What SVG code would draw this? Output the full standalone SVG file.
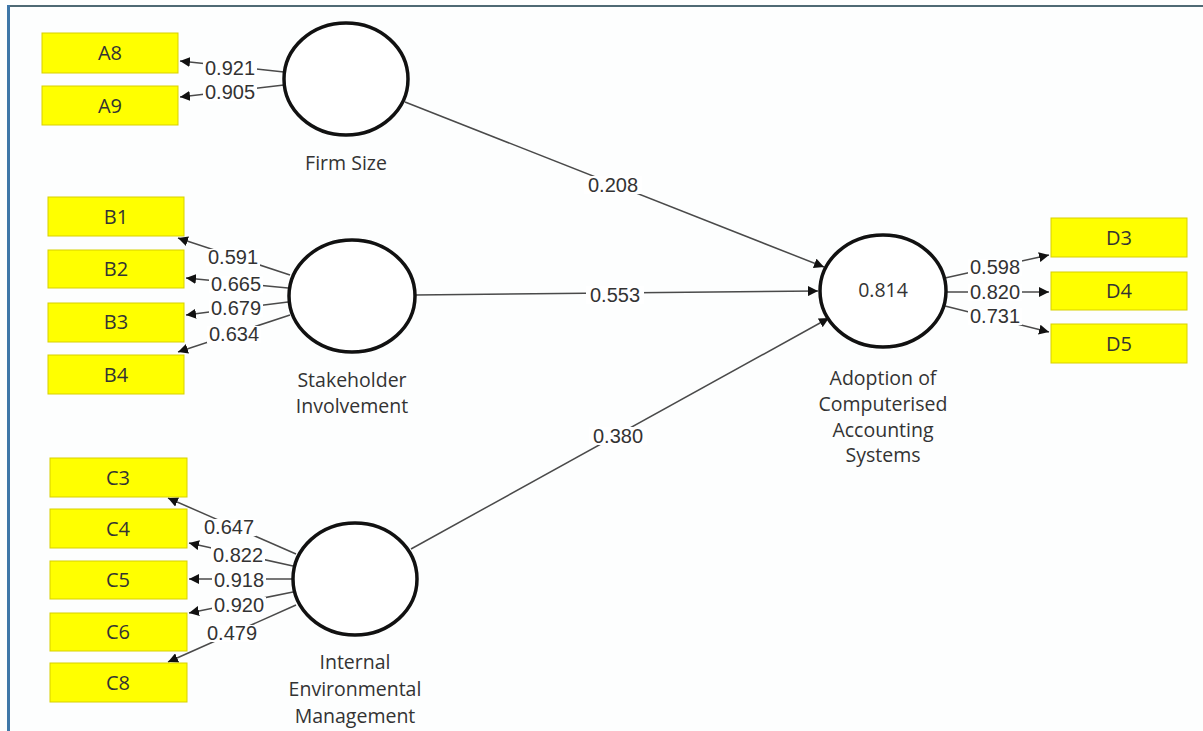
<svg xmlns="http://www.w3.org/2000/svg" width="1203" height="731" viewBox="0 0 1203 731">
<defs>
<marker id="arr" viewBox="0 0 10 10" refX="10" refY="5" markerWidth="10" markerHeight="10" markerUnits="userSpaceOnUse" orient="auto">
<path d="M0,0 L10,5 L0,10 z" fill="#111"/>
</marker>
<style>
.box{fill:#ffff00;stroke:#d8d000;stroke-width:1}
.bt{font-family:"Open Sans","Liberation Sans",sans-serif;font-size:20px;fill:#333;text-anchor:middle}
.lv{fill:#fff;stroke:#111;stroke-width:3.5}
.lt{font-family:"Open Sans","Liberation Sans",sans-serif;font-size:19.5px;fill:#333;text-anchor:middle}
.ln{stroke:#4a4a4a;stroke-width:1.5;fill:none;marker-end:url(#arr)}
.lbg{fill:#fff}
.num{font-family:"Liberation Sans",Arial,sans-serif;font-size:20px;fill:#333;text-anchor:middle}
</style>
</defs>
<rect x="0" y="0" width="1203" height="731" fill="#fdfefe"/>
<line x1="8" y1="6" x2="1203" y2="6" stroke="#4f6a74" stroke-width="2"/>
<line x1="8.5" y1="5" x2="8.5" y2="731" stroke="#3f77a8" stroke-width="3"/>

<g id="connectors">
<line class="ln" x1="284" y1="72" x2="180" y2="61"/>
<line class="ln" x1="284" y1="85" x2="180" y2="97"/>
<line class="ln" x1="290" y1="275" x2="178" y2="238"/>
<line class="ln" x1="288" y1="288" x2="186" y2="278"/>
<line class="ln" x1="288" y1="302" x2="186" y2="315"/>
<line class="ln" x1="290" y1="315" x2="178" y2="352"/>
<line class="ln" x1="296" y1="554" x2="168" y2="498"/>
<line class="ln" x1="293" y1="566" x2="189" y2="543"/>
<line class="ln" x1="293" y1="579" x2="189" y2="579"/>
<line class="ln" x1="293" y1="592" x2="189" y2="613"/>
<line class="ln" x1="296" y1="605" x2="168" y2="662"/>
<line class="ln" x1="945" y1="278" x2="1049" y2="255"/>
<line class="ln" x1="946" y1="292" x2="1049" y2="292"/>
<line class="ln" x1="945" y1="306" x2="1049" y2="332"/>
<line class="ln" x1="405" y1="102" x2="824" y2="267"/>
<line class="ln" x1="415" y1="295" x2="818" y2="291"/>
<line class="ln" x1="411" y1="549" x2="829" y2="318"/>
<g>
<rect class="lbg" x="203" y="60" width="54" height="17"/><text class="num" x="230" y="75">0.921</text>
<rect class="lbg" x="203" y="84" width="54" height="17"/><text class="num" x="230" y="99">0.905</text>
<rect class="lbg" x="206" y="249" width="54" height="17"/><text class="num" x="233" y="264">0.591</text>
<rect class="lbg" x="209" y="276" width="54" height="17"/><text class="num" x="236" y="291">0.665</text>
<rect class="lbg" x="209" y="300" width="54" height="17"/><text class="num" x="236" y="315">0.679</text>
<rect class="lbg" x="207" y="326" width="54" height="17"/><text class="num" x="234" y="341">0.634</text>
<rect class="lbg" x="202" y="519" width="54" height="17"/><text class="num" x="229" y="534">0.647</text>
<rect class="lbg" x="211" y="547" width="54" height="17"/><text class="num" x="238" y="562">0.822</text>
<rect class="lbg" x="212" y="572" width="54" height="17"/><text class="num" x="239" y="587">0.918</text>
<rect class="lbg" x="212" y="597" width="54" height="17"/><text class="num" x="239" y="612">0.920</text>
<rect class="lbg" x="205" y="625" width="54" height="17"/><text class="num" x="232" y="640">0.479</text>
<rect class="lbg" x="968" y="259" width="54" height="17"/><text class="num" x="995" y="274">0.598</text>
<rect class="lbg" x="968" y="284" width="54" height="17"/><text class="num" x="995" y="299">0.820</text>
<rect class="lbg" x="968" y="308" width="54" height="17"/><text class="num" x="995" y="323">0.731</text>
<rect class="lbg" x="584" y="176" width="58" height="18"/><text class="num" x="613" y="192">0.208</text>
<rect class="lbg" x="586" y="286" width="58" height="18"/><text class="num" x="615" y="302">0.553</text>
<rect class="lbg" x="589" y="427" width="58" height="18"/><text class="num" x="618" y="443">0.380</text>
</g>
</g>

<g id="A8"><rect class="box" x="42" y="33" width="136" height="40"/><text class="bt" x="110" y="60">A8</text></g>
<g id="A9"><rect class="box" x="42" y="86" width="136" height="39"/><text class="bt" x="110" y="113">A9</text></g>
<g id="B1"><rect class="box" x="48" y="197" width="136" height="39"/><text class="bt" x="116" y="224">B1</text></g>
<g id="B2"><rect class="box" x="48" y="250" width="136" height="38"/><text class="bt" x="116" y="276">B2</text></g>
<g id="B3"><rect class="box" x="48" y="303" width="136" height="39"/><text class="bt" x="116" y="329">B3</text></g>
<g id="B4"><rect class="box" x="48" y="355" width="136" height="39"/><text class="bt" x="116" y="382">B4</text></g>
<g id="C3"><rect class="box" x="50" y="458" width="137" height="39"/><text class="bt" x="118" y="485">C3</text></g>
<g id="C4"><rect class="box" x="50" y="509" width="137" height="39"/><text class="bt" x="118" y="536">C4</text></g>
<g id="C5"><rect class="box" x="50" y="561" width="137" height="38"/><text class="bt" x="118" y="587">C5</text></g>
<g id="C6"><rect class="box" x="50" y="613" width="137" height="38"/><text class="bt" x="118" y="639">C6</text></g>
<g id="C8"><rect class="box" x="50" y="663" width="137" height="39"/><text class="bt" x="118" y="690">C8</text></g>
<g id="D3"><rect class="box" x="1051" y="218" width="136" height="39"/><text class="bt" x="1119" y="245">D3</text></g>
<g id="D4"><rect class="box" x="1051" y="272" width="136" height="38"/><text class="bt" x="1119" y="298">D4</text></g>
<g id="D5"><rect class="box" x="1051" y="324" width="136" height="39"/><text class="bt" x="1119" y="351">D5</text></g>

<g id="FirmSize"><ellipse class="lv" cx="346" cy="79" rx="62" ry="56"/><text class="lt" x="346" y="170">Firm Size</text></g>
<g id="Stakeholder"><ellipse class="lv" cx="352" cy="296" rx="63" ry="56"/><text class="lt" x="352" y="387">Stakeholder</text><text class="lt" x="352" y="413">Involvement</text></g>
<g id="InternalEnv"><ellipse class="lv" cx="355" cy="579" rx="62" ry="56"/><text class="lt" x="355" y="669">Internal</text><text class="lt" x="355" y="696">Environmental</text><text class="lt" x="355" y="723">Management</text></g>
<g id="Adoption"><ellipse class="lv" cx="883" cy="291" rx="63" ry="56"/><text class="lt" x="883" y="297">0.814</text><text class="lt" x="883" y="385">Adoption of</text><text class="lt" x="883" y="411">Computerised</text><text class="lt" x="883" y="437">Accounting</text><text class="lt" x="883" y="462">Systems</text></g>
</svg>
